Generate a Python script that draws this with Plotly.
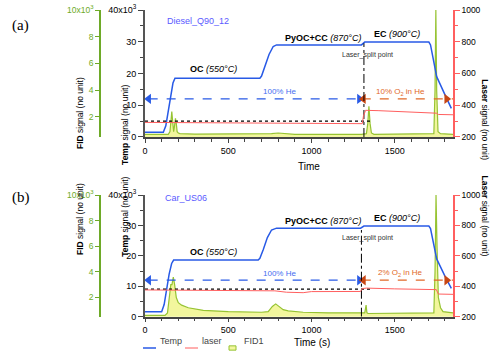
import plotly.graph_objects as go

# ---- data ----
# panel (a) Diesel_Q90_12
t_temp_a = [0, 110, 125, 140, 155, 168, 180, 690, 700, 720, 745, 770, 790, 1300, 1320, 1705, 1715, 1752, 1760, 1800, 1840]
temp_a = [1500, 1500, 3500, 8000, 13000, 17000, 18500, 18500, 19200, 22000, 26000, 28500, 29000, 29000, 29900, 29900, 29000, 19000, 18000, 13500, 9000]
t_laser_a = [0, 400, 800, 1200, 1305, 1312, 1325, 1400, 1600, 1750, 1762, 1850]
laser_a = [292, 290, 289, 287, 284, 330, 368, 366, 358, 350, 342, 340]
t_fid_a = [0, 140, 150, 156, 161, 166, 172, 177, 183, 188, 193, 200, 210, 300, 700, 760, 800, 850, 900,
           1300, 1330, 1338, 1345, 1352, 1360, 1375, 1735, 1742, 1747, 1752, 1760, 1775, 1850]
fid_a = [700, 700, 900, 1700, 2400, 1700, 900, 1300, 1900, 1500, 900, 800, 750, 720, 700, 750, 800, 760, 700,
         700, 750, 1500, 2800, 1500, 800, 700, 750, 4000, 10000, 4000, 900, 750, 700]

# panel (b) Car_US06
t_temp_b = [0, 100, 115, 130, 145, 160, 172, 680, 690, 710, 735, 760, 790, 1295, 1315, 1705, 1715, 1752, 1760, 1800, 1840]
temp_b = [1600, 1600, 4000, 9000, 14000, 17500, 18600, 18600, 19200, 22000, 26000, 28500, 29100, 29100, 29800, 29800, 29000, 19000, 18000, 13500, 9300]
t_laser_b = [0, 300, 600, 780, 850, 950, 1000, 1200, 1295, 1305, 1330, 1500, 1750, 1762, 1850]
laser_b = [376, 375, 373, 370, 361, 358, 365, 367, 366, 385, 388, 383, 378, 349, 347]
t_fid_b = [0, 120, 135, 145, 155, 162, 170, 178, 188, 200, 220, 260, 350, 500, 700, 740, 765, 785, 805, 830, 860,
           950, 1100, 1320, 1328, 1333, 1340, 1735, 1742, 1748, 1754, 1762, 1775, 1790, 1850]
fid_b = [600, 600, 800, 1800, 3000, 3000, 3600, 3000, 2000, 1600, 1400, 1200, 1000, 900, 850, 900, 1300, 1500, 1300, 1050, 950,
         850, 800, 800, 1400, 800, 750, 800, 4000, 10000, 6000, 2000, 1200, 900, 800]

# reference level of laser, split point and gas phases
ref_span = [0, 1362]
laser_ref_a = [300, 300]
laser_ref_b = [381, 381]
split_a = 1315
split_b = 1300
split_top = [29500, 28500]
he_span = [22, 1288]
o2_span = [1302, 1850]
o2_heads = [1312, 1812]
arrow_level = 12000

legend_names = ["Temp", "laser", "FID1"]

blue = "rgb(40,90,230)"
red = "rgb(255,95,95)"
green = "rgb(150,195,50)"
fid_fill = "rgba(240,245,140,0.85)"
orange = "rgb(225,105,40)"
FONT = "Liberation Sans, Arial, sans-serif"

fig = go.Figure()

dom_a = [0.6184, 0.9721]
dom_b = [0.1178, 0.4568]


def add_panel(fig, xref, yf, yt, yl, t_temp, temp, t_laser, laser, t_fid, fid, laser_ref, split, stop, o2_text):
	fig.add_trace(go.Scatter(x=t_fid, y=fid, xaxis=xref, yaxis=yf, mode="lines", name="FID1",
	                         line=dict(color=green, width=1.2), fill="tozeroy", fillcolor=fid_fill))
	fig.add_trace(go.Scatter(x=t_temp, y=temp, xaxis=xref, yaxis=yt, mode="lines", name="Temp",
	                         line=dict(color=blue, width=1.5)))
	# He arrow
	fig.add_trace(go.Scatter(x=he_span, y=[arrow_level] * 2, xaxis=xref, yaxis=yt, mode="lines+markers",
	                         line=dict(color=blue, width=1.3, dash="dash"),
	                         marker=dict(symbol=["triangle-left", "triangle-right"], size=9, color=blue),
	                         hoverinfo="skip"))
	# O2 arrow
	fig.add_trace(go.Scatter(x=o2_span, y=[arrow_level] * 2, xaxis=xref, yaxis=yt, mode="lines",
	                         line=dict(color=orange, width=1.3, dash="dash"), hoverinfo="skip"))
	fig.add_trace(go.Scatter(x=o2_heads, y=[arrow_level] * 2, xaxis=xref, yaxis=yt, mode="markers",
	                         marker=dict(symbol=["triangle-left", "triangle-right"], size=9, color="rgb(200,70,20)"),
	                         hoverinfo="skip"))
	# split line
	fig.add_trace(go.Scatter(x=[split, split], y=[0, stop], xaxis=xref, yaxis=yt, mode="lines",
	                         line=dict(color="black", width=1, dash="dashdot"), hoverinfo="skip"))
	fig.add_trace(go.Scatter(x=ref_span, y=laser_ref, xaxis=xref, yaxis=yl, mode="lines",
	                         line=dict(color="black", width=1.2, dash="dot"), hoverinfo="skip"))
	fig.add_trace(go.Scatter(x=t_laser, y=laser, xaxis=xref, yaxis=yl, mode="lines", name="laser",
	                         line=dict(color=red, width=1)))

	for txt, xx, yy in [("<b>OC</b> <i>(550°C)</i>", 410, 21300),
	                    ("<b>PyOC+CC</b> <i>(870°C)</i>", 1068, 31300),
	                    ("<b>EC</b> <i>(900°C)</i>", 1513, 32400)]:
		fig.add_annotation(x=xx, y=yy, xref=xref, yref=yt, text=txt, showarrow=False,
		                   font=dict(size=9, color="black", family=FONT))
	fig.add_annotation(x=1335, y=25800, xref=xref, yref=yt, text="Laser_split point", showarrow=False,
	                   font=dict(size=7, color="#333", family=FONT))
	fig.add_annotation(x=810, y=14300, xref=xref, yref=yt, text="100% He", showarrow=False,
	                   font=dict(size=8, color="rgb(70,110,240)", family=FONT))
	fig.add_annotation(x=1536, y=14300, xref=xref, yref=yt, text=o2_text, showarrow=False,
	                   font=dict(size=8, color=orange, family=FONT))


add_panel(fig, "x", "y", "y2", "y3", t_temp_a, temp_a, t_laser_a, laser_a, t_fid_a, fid_a,
          laser_ref_a, split_a, split_top[0], "10% O<sub>2</sub> in He")
add_panel(fig, "x2", "y4", "y5", "y6", t_temp_b, temp_b, t_laser_b, laser_b, t_fid_b, fid_b,
          laser_ref_b, split_b, split_top[1], "2% O<sub>2</sub> in He")

tickf = dict(size=9, family=FONT, color="black")
xax = dict(range=[0, 1850], tickvals=[0, 500, 1000, 1500], ticks="outside", ticklen=4, tickcolor="#444",
           showline=True, linecolor="#444", linewidth=1.5, showgrid=False, zeroline=False, automargin=False,
           minor=dict(dtick=100, ticks="outside", ticklen=3, tickcolor="#444"), tickfont=tickf, domain=[0.29, 0.906])
fid_ax = dict(range=[500, 10000], tickvals=[2000, 4000, 6000, 8000, 10000],
              ticktext=["2", "4", "6", "8", "10x10<sup>3</sup>"], ticks="outside", ticklen=4,
              tickcolor="rgb(110,170,40)", showline=True, linecolor="rgb(110,170,40)", linewidth=1.5,
              showgrid=False, zeroline=False, anchor="free", position=0.2, automargin=False,
              tickfont=dict(size=8.5, family=FONT, color="rgb(110,170,40)"))
temp_ax = dict(range=[0, 40000], tickvals=[0, 10000, 20000, 30000, 40000],
               ticktext=["0", "10", "20", "30", "40x10<sup>3</sup>"], ticks="outside", ticklen=5, tickcolor="#444",
               showline=True, linecolor="#555", linewidth=2, showgrid=False, zeroline=False, automargin=False,
               minor=dict(dtick=5000, ticks="outside", ticklen=3, tickcolor="#444"), tickfont=tickf)
laser_ax = dict(range=[200, 1000], tickvals=[200, 400, 600, 800, 1000], ticks="outside", ticklen=5,
                tickcolor=red, showline=True, linecolor=red, linewidth=1.5, showgrid=False, zeroline=False,
                side="right", automargin=False,
                minor=dict(dtick=100, ticks="outside", ticklen=3, tickcolor=red),
                tickfont=dict(size=8.5, family=FONT, color="black"))

fig.update_layout(
	width=500, height=359, margin=dict(l=0, r=0, t=0, b=0, autoexpand=False),
	paper_bgcolor="white", plot_bgcolor="rgba(0,0,0,0)",
	xaxis=dict(xax, anchor="y"),
	xaxis2=dict(xax, anchor="y4"),
	yaxis=dict(fid_ax, domain=dom_a),
	yaxis2=dict(temp_ax, domain=dom_a, overlaying="y", anchor="x"),
	yaxis3=dict(laser_ax, domain=dom_a, overlaying="y", anchor="x"),
	yaxis4=dict(fid_ax, domain=dom_b),
	yaxis5=dict(temp_ax, domain=dom_b, overlaying="y4", anchor="x2"),
	yaxis6=dict(laser_ax, domain=dom_b, overlaying="y4", anchor="x2"),
	showlegend=False,
	font=dict(family=FONT),
)

# hand-made legend row under panel (b)
ly = 1 - 348 / 359
leg_x = [0.286, 0.37, 0.458]
fig.add_shape(type="line", xref="paper", yref="paper", x0=leg_x[0], x1=leg_x[0] + 0.026, y0=ly, y1=ly,
              line=dict(color=blue, width=1.5))
fig.add_shape(type="line", xref="paper", yref="paper", x0=leg_x[1], x1=leg_x[1] + 0.026, y0=ly, y1=ly,
              line=dict(color=red, width=1))
fig.add_shape(type="rect", xref="paper", yref="paper", x0=leg_x[2], x1=leg_x[2] + 0.014, y0=ly - 0.006,
              y1=ly + 0.006, line=dict(color=green, width=1), fillcolor=fid_fill)
for xx, name in zip([leg_x[0] + 0.03, leg_x[1] + 0.03, leg_x[2] + 0.026], legend_names):
	fig.add_annotation(x=xx, y=ly, xref="paper", yref="paper", text=name, showarrow=False, xanchor="left",
	                   font=dict(size=9, family=FONT, color="#444"))

# axis titles, panel labels, sample names
notes = [
	(0.146, 0.791, "<b>FID</b> signal (no unit)", -90), (0.236, 0.769, "<b>Temp</b> signal (no unit)", -90),
	(0.984, 0.786, "<b>Laser</b> signal (no unit)", 90),
	(0.146, 0.284, "<b>FID</b> signal (no unit)", -90), (0.236, 0.279, "<b>Temp</b> signal (no unit)", -90),
	(0.984, 0.281, "<b>Laser</b> signal (no unit)", 90),
]
for xx, yy, txt, ang in notes:
	fig.add_annotation(x=xx, y=yy, xref="paper", yref="paper", text=txt, textangle=ang, showarrow=False,
	                   font=dict(size=8.5, family=FONT, color="black"))
fig.add_annotation(x=0.618, y=1 - 166 / 359, xref="paper", yref="paper", text="Time", showarrow=False,
                   font=dict(size=10, family=FONT, color="black"))
fig.add_annotation(x=0.623, y=1 - 350 / 359, xref="paper", yref="paper", text="Time (s)", showarrow=False,
                   font=dict(size=10, family=FONT, color="black"))
fig.add_annotation(x=0.02, y=1 - 15 / 359, xref="paper", yref="paper", text="(a)", showarrow=False, xanchor="left",
                   font=dict(size=15, family="Liberation Serif, Times New Roman, serif", color="black"))
fig.add_annotation(x=0.02, y=1 - 197 / 359, xref="paper", yref="paper", text="(b)", showarrow=False, xanchor="left",
                   font=dict(size=15, family="Liberation Serif, Times New Roman, serif", color="black"))
fig.add_annotation(x=0.33, y=1 - 14 / 359, xref="paper", yref="paper", text="Diesel_Q90_12", showarrow=False,
                   xanchor="left", font=dict(size=9, family=FONT, color="rgb(90,90,255)"))
fig.add_annotation(x=0.326, y=1 - 198 / 359, xref="paper", yref="paper", text="Car_US06", showarrow=False,
                   xanchor="left", font=dict(size=9, family=FONT, color="rgb(90,90,255)"))

fig.write_html("out.html", config={"displayModeBar": False},
               post_script="document.body.style.margin='0';")
